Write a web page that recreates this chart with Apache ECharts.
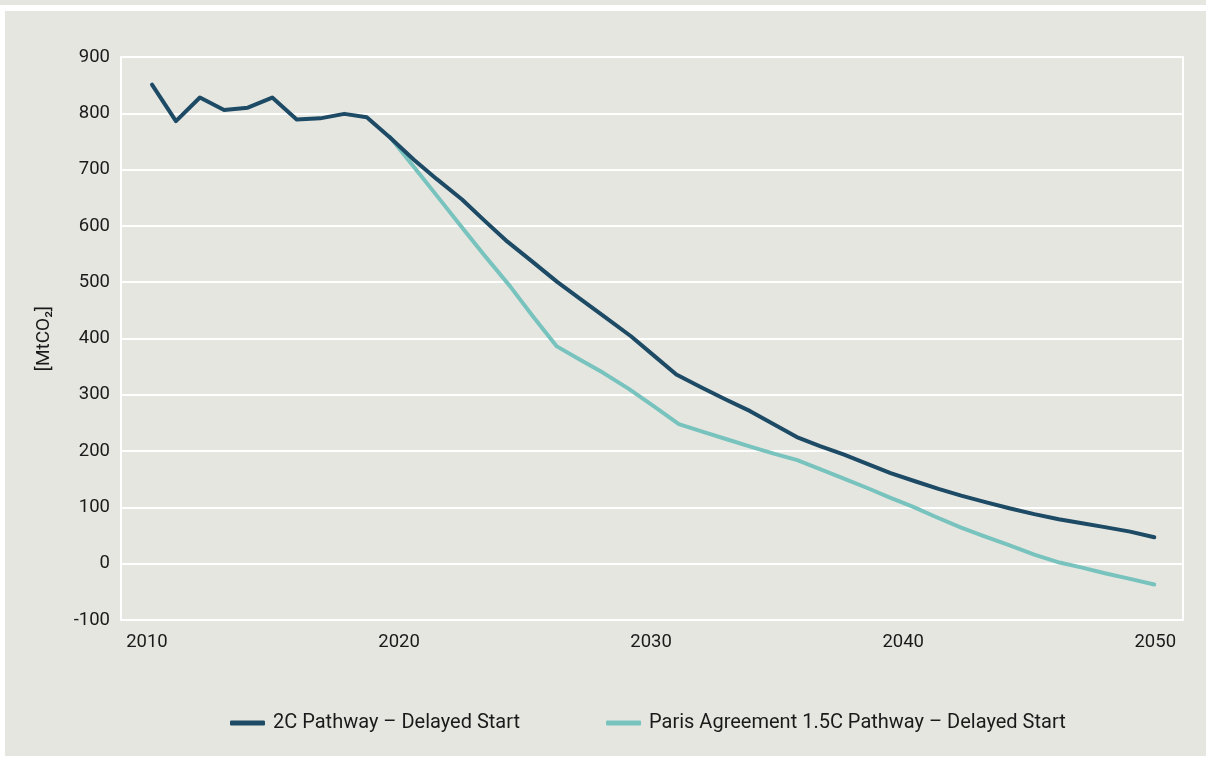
<!DOCTYPE html>
<html>
<head>
<meta charset="utf-8">
<script src="https://cdn.jsdelivr.net/npm/echarts@6/dist/echarts.min.js"></script>
<style>
html,body{margin:0;padding:0;background:#ffffff;width:1206px;height:758px;overflow:hidden;}
#strip{position:absolute;left:0;top:0;width:1206px;height:5px;background:#e6e6e1;}
#panel{position:absolute;left:5px;top:11px;width:1201px;height:745px;background:#e6e6e1;}
#chart{position:absolute;left:0;top:0;width:1206px;height:758px;}
</style>
</head>
<body>
<div id="strip"></div>
<div id="panel"></div>
<div id="chart"></div>
<script>
// Years (x) and values (MtCO2)
const pathway2CYears = [2010.2,2011.15,2012.1,2013.06,2014.0,2014.97,2015.94,2016.87,2017.83,2018.72,2019.64,2020.6,2021.5,2022.5,2023.4,2024.3,2025.3,2026.26,2027.2,2028.2,2029.2,2030.1,2031.0,2032.0,2032.94,2033.93,2034.9,2035.78,2036.7,2037.63,2038.6,2039.5,2040.5,2041.4,2042.3,2043.3,2044.25,2045.2,2046.17,2047.1,2048.0,2049.0,2049.96];
const pathway2CValues = [851,786,828,806,810,828,789,791,799,793,757,717,683,647,609,572,536,501,470,437,404,370,336,313,292,271,247,225,209,194,177,161,146,133,121,109,98,88,79,72,65,57,47];
const paris15CYears = [2019.64,2020.6,2021.6,2022.5,2023.4,2024.4,2025.3,2026.26,2027.2,2028.1,2029.1,2030.1,2031.1,2032.0,2033.0,2034.0,2034.9,2035.8,2036.7,2037.6,2038.6,2039.5,2040.4,2041.3,2042.3,2043.2,2044.2,2045.2,2046.2,2047.1,2048.0,2049.0,2049.96];
const paris15CValues = [758,704,648,597,547,493,440,386,362,339,311,280,248,235,221,207,195,184,168,152,134,117,101,83,64,49,33,16,2,-7,-17,-27,-37];
const xTickLabels = [2010,2020,2030,2040,2050];
const seriesNames = ['2C Pathway – Delayed Start','Paris Agreement 1.5C Pathway – Delayed Start'];

const pair = (xs, ys) => xs.map((x, i) => [x, ys[i]]);
const FONT = 'Roboto';
const chart = echarts.init(document.getElementById('chart'), null, {renderer: 'canvas'});
chart.setOption({
  backgroundColor: 'transparent',
  animation: false,
  textStyle: {fontFamily: FONT},
  grid: {left: 121, right: 23, top: 57, bottom: 138, show: true, borderColor: '#ffffff', borderWidth: 2, backgroundColor: 'transparent'},
  legend: {
    left: 225, top: 708,
    icon: 'roundRect',
    itemWidth: 35, itemHeight: 5, itemGap: 86,
    textStyle: {fontFamily: FONT, fontSize: 20, color: '#1a1a1a', padding: [0, 0, 0, 3]},
    data: seriesNames
  },
  xAxis: {
    type: 'value', min: 2008.97, max: 2051.1,
    axisLine: {show: false}, axisTick: {show: false}, splitLine: {show: false},
    axisLabel: {customValues: xTickLabels, fontFamily: FONT, fontSize: 18.5, color: '#1a1a1a', margin: 13, formatter: v => String(Math.round(v))}
  },
  yAxis: {
    type: 'value', min: -100, max: 900, interval: 100,
    name: '[MtCO₂]', nameLocation: 'middle', nameGap: 67, nameRotate: 90,
    nameTextStyle: {fontFamily: FONT, fontSize: 19, color: '#1a1a1a'},
    axisLine: {show: false}, axisTick: {show: false},
    splitLine: {lineStyle: {color: '#ffffff', width: 2}},
    axisLabel: {fontFamily: FONT, fontSize: 18.5, color: '#1a1a1a', margin: 11}
  },
  series: [
    {name: seriesNames[0], type: 'line', data: pair(pathway2CYears, pathway2CValues), symbol: 'none', z: 3,
     lineStyle: {color: '#1d4a64', width: 4, cap: 'round', join: 'round'}, itemStyle: {color: '#1d4a64'}},
    {name: seriesNames[1], type: 'line', data: pair(paris15CYears, paris15CValues), symbol: 'none', z: 2,
     lineStyle: {color: '#78c3bd', width: 4, cap: 'round', join: 'round'}, itemStyle: {color: '#78c3bd'}}
  ]
});
</script>
</body>
</html>
